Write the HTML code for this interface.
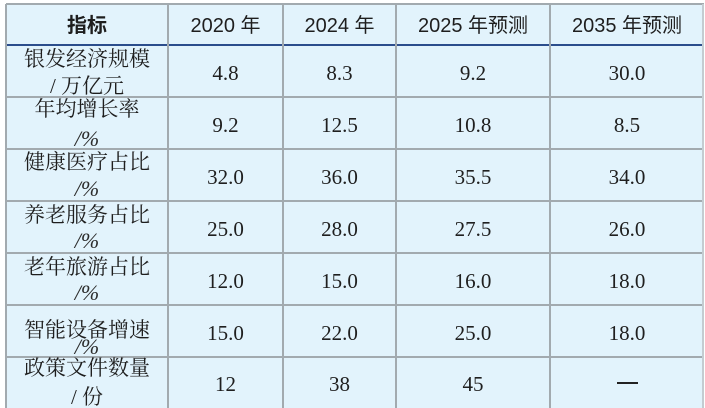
<!DOCTYPE html>
<html><head><meta charset="utf-8">
<style>
html,body{margin:0;padding:0;background:#fff;}
#c{position:relative;width:705px;height:408px;overflow:hidden;background:#fff;}
.bg{position:absolute;left:6px;top:4px;width:698px;height:410px;background:#e2f3fc;}
.h{position:absolute;left:6px;width:698px;height:2px;background:#a2aaaf;}
.v{position:absolute;top:4px;width:2px;height:410px;background:#a2aaaf;}
.blue{position:absolute;left:6px;top:44px;width:698px;height:2px;background:#2b4d8c;}
.t{position:absolute;text-align:center;white-space:nowrap;}
.hd{font-family:"Liberation Sans","Noto Sans CJK SC",sans-serif;font-size:20px;color:#1e1e1e;line-height:24px;top:14px;}
.lb{font-family:"Liberation Serif","Noto Serif CJK SC",serif;font-size:21px;color:#1e1e1e;line-height:24px;left:6px;width:162px;}
.pc{font-family:"Liberation Serif","Noto Serif CJK SC",serif;font-size:22px;font-style:italic;color:#2b2b2b;line-height:20px;left:6px;width:162px;}
.d{font-family:"Liberation Serif","Noto Serif CJK SC",serif;font-size:21px;color:#1f1f1f;line-height:52px;height:52px;}
.c1{left:168px;width:115px;}
.c2{left:283px;width:113px;}
.c3{left:396px;width:154px;}
.c4{left:550px;width:154px;}
.dash{position:absolute;left:617px;top:382px;width:21px;height:2px;background:#222;}
</style></head><body>
<div id="c">
<div class="bg"></div>
<div class="h" style="top:3px;height:2px;"></div>
<div class="blue"></div>
<div class="h" style="top:96px"></div>
<div class="h" style="top:148px"></div>
<div class="h" style="top:200px"></div>
<div class="h" style="top:252px"></div>
<div class="h" style="top:304px"></div>
<div class="h" style="top:356px"></div>
<div class="v" style="left:5px"></div>
<div class="v" style="left:167px"></div>
<div class="v" style="left:282px"></div>
<div class="v" style="left:395px"></div>
<div class="v" style="left:549px"></div>
<div class="v" style="left:702px;background:#c4ccd1"></div>

<div class="t hd" style="left:6px;width:162px;font-weight:bold;">指标</div>
<div class="t hd c1">2020 年</div>
<div class="t hd c2">2024 年</div>
<div class="t hd c3">2025 年预测</div>
<div class="t hd c4">2035 年预测</div>

<div class="t lb" style="top:47px">银发经济规模</div>
<div class="t lb" style="top:74px">/ 万亿元</div>
<div class="t lb" style="top:97px">年均增长率</div>
<div class="t pc" style="top:129px">/%</div>
<div class="t lb" style="top:150px">健康医疗占比</div>
<div class="t pc" style="top:179px">/%</div>
<div class="t lb" style="top:203px">养老服务占比</div>
<div class="t pc" style="top:231px">/%</div>
<div class="t lb" style="top:255px">老年旅游占比</div>
<div class="t pc" style="top:283px">/%</div>
<div class="t lb" style="top:318px">智能设备增速</div>
<div class="t pc" style="top:337px">/%</div>
<div class="t lb" style="top:356px">政策文件数量</div>
<div class="t lb" style="top:385px">/ 份</div>

<div class="t d c1" style="top:47px">4.8</div>
<div class="t d c2" style="top:47px">8.3</div>
<div class="t d c3" style="top:47px">9.2</div>
<div class="t d c4" style="top:47px">30.0</div>

<div class="t d c1" style="top:99px">9.2</div>
<div class="t d c2" style="top:99px">12.5</div>
<div class="t d c3" style="top:99px">10.8</div>
<div class="t d c4" style="top:99px">8.5</div>

<div class="t d c1" style="top:151px">32.0</div>
<div class="t d c2" style="top:151px">36.0</div>
<div class="t d c3" style="top:151px">35.5</div>
<div class="t d c4" style="top:151px">34.0</div>

<div class="t d c1" style="top:203px">25.0</div>
<div class="t d c2" style="top:203px">28.0</div>
<div class="t d c3" style="top:203px">27.5</div>
<div class="t d c4" style="top:203px">26.0</div>

<div class="t d c1" style="top:255px">12.0</div>
<div class="t d c2" style="top:255px">15.0</div>
<div class="t d c3" style="top:255px">16.0</div>
<div class="t d c4" style="top:255px">18.0</div>

<div class="t d c1" style="top:307px">15.0</div>
<div class="t d c2" style="top:307px">22.0</div>
<div class="t d c3" style="top:307px">25.0</div>
<div class="t d c4" style="top:307px">18.0</div>

<div class="t d c1" style="top:358px">12</div>
<div class="t d c2" style="top:358px">38</div>
<div class="t d c3" style="top:358px">45</div>
<div class="dash"></div>
</div>
</body></html>
